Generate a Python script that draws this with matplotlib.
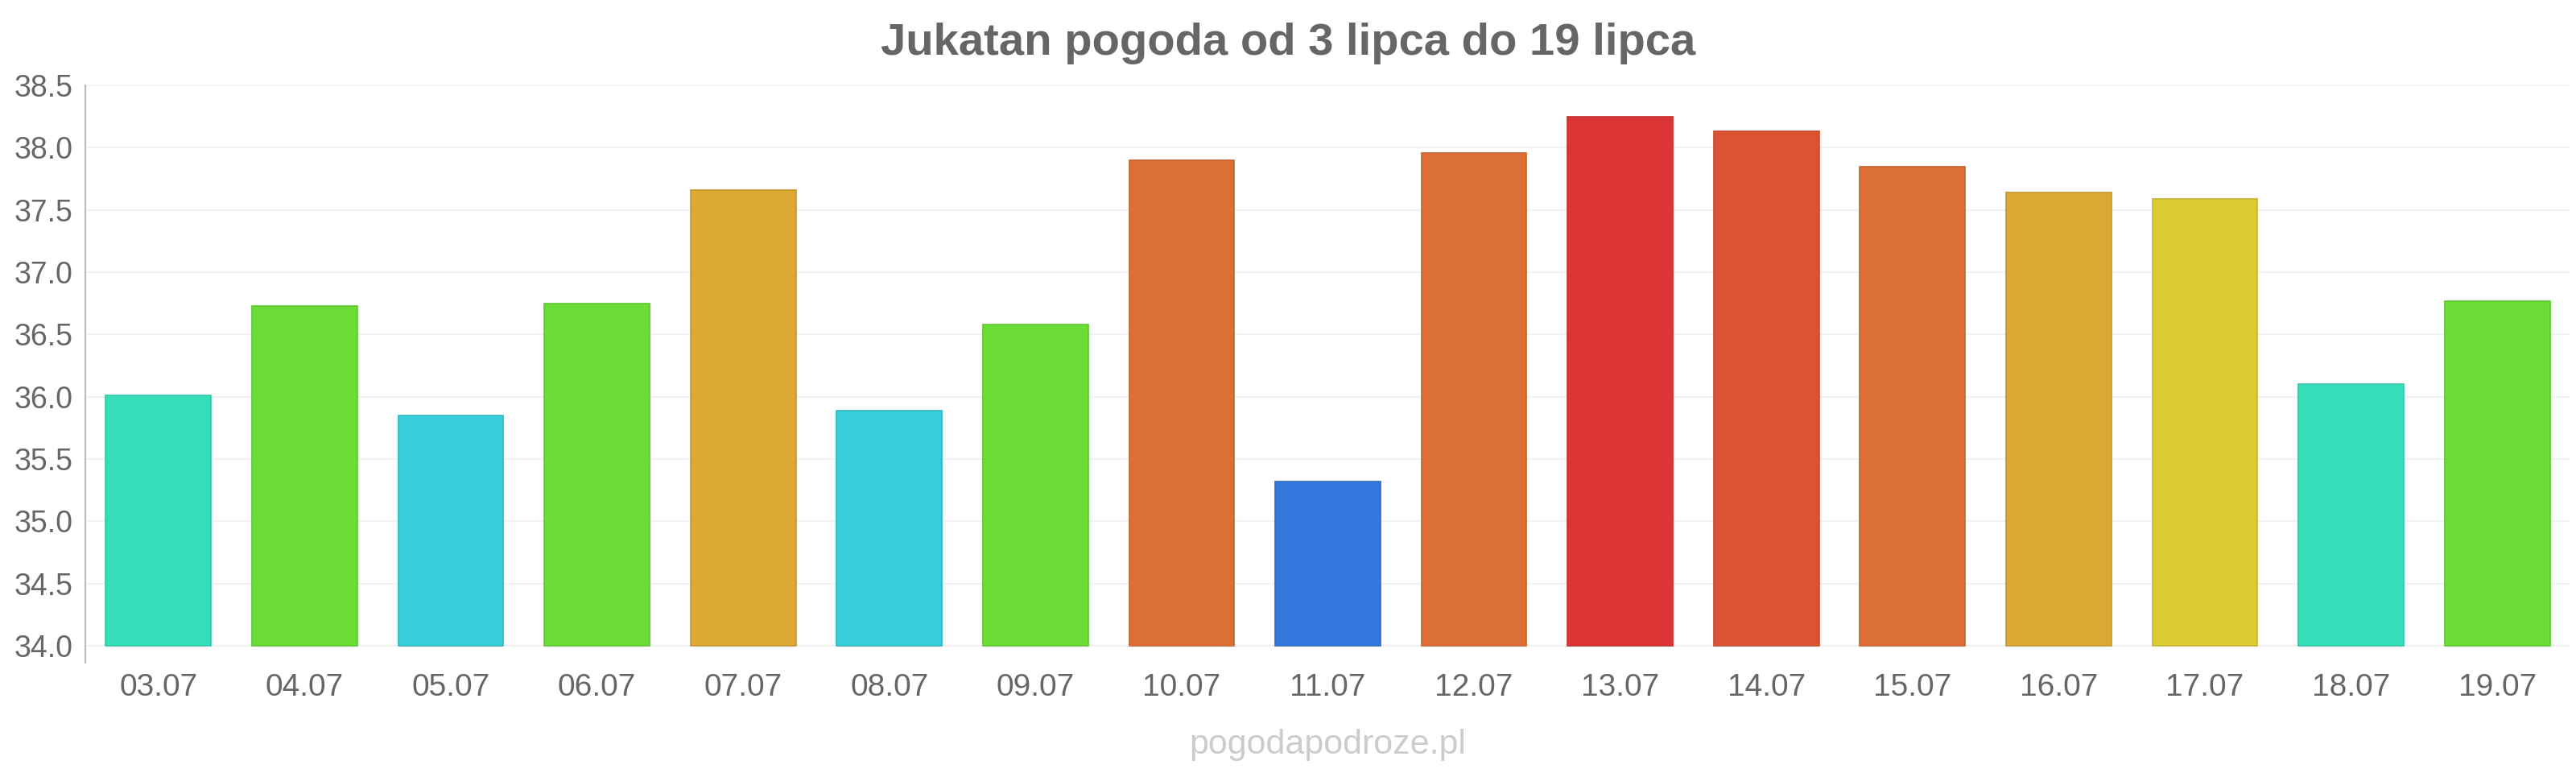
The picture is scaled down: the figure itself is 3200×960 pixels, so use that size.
import matplotlib
matplotlib.use("Agg")
import matplotlib.pyplot as plt
import matplotlib.colors as mcolors

categories = ["03.07", "04.07", "05.07", "06.07", "07.07", "08.07", "09.07", "10.07", "11.07",
              "12.07", "13.07", "14.07", "15.07", "16.07", "17.07", "18.07", "19.07"]
temps = [36.01, 36.73, 35.85, 36.75, 37.66, 35.89, 36.58, 37.90, 35.32,
         37.96, 38.25, 38.13, 37.85, 37.64, 37.59, 36.10, 36.77]
bar_colors = ["#36DDB9", "#6BDD36", "#35CEDA", "#6BDD36", "#DBA934", "#35CEDA", "#6BDD36", "#DD7034",
              "#3578DD", "#DD7034", "#DB3535", "#DC5334", "#DD7034", "#DBA934", "#DBCA34", "#36DDB9",
              "#6BDD36"]
yticks = [34.0, 34.5, 35.0, 35.5, 36.0, 36.5, 37.0, 37.5, 38.0, 38.5]
title = "Jukatan pogoda od 3 lipca do 19 lipca"
watermark = "pogodapodroze.pl"

plt.rcParams['font.family'] = ['Liberation Sans', 'DejaVu Sans']

W, H = 3200, 960
fig = plt.figure(figsize=(W / 100, H / 100), dpi=100)
fig.patch.set_facecolor("white")

ax_left, ax_right, ax_top, ax_bottom = 106, 3193, 106, 823
ax = fig.add_axes([ax_left / W, (H - ax_bottom) / H, (ax_right - ax_left) / W, (ax_bottom - ax_top) / H])

base = 34.0
x = list(range(len(categories)))
edges = []
for c in bar_colors:
    r, g, b = mcolors.to_rgb(c)
    edges.append((r * 0.9, g * 0.9, b * 0.9))
ax.bar(x, [t - base for t in temps], bottom=base, width=0.72, color=bar_colors,
       edgecolor=edges, linewidth=1.2, zorder=3)

ax.set_xlim(-0.5, len(categories) - 0.5)
ax.set_ylim(33.864, 38.5)
ax.set_yticks(yticks)
ax.set_yticklabels([f"{v:.1f}" for v in yticks])
ax.set_xticks(x)
ax.set_xticklabels(categories)

ax.grid(axis='y', color='#f2f2f2', linewidth=1.5, zorder=0)
ax.grid(axis='x', visible=False)
for s in ["top", "right", "bottom"]:
    ax.spines[s].set_visible(False)
ax.spines["left"].set_color("#bbbbbb")
ax.spines["left"].set_linewidth(1.5)

ax.tick_params(axis='y', length=0, pad=11, labelsize=27, labelcolor="#666666")
ax.tick_params(axis='x', length=0, pad=9, labelsize=28, labelcolor="#666666")

fig.text(0.5, 1 - 54 / H, title, ha='center', va='center', fontsize=40.5, fontweight='bold', color="#666666")
fig.text((ax_left + ax_right) / 2 / W, 1 - 925 / H, watermark, ha='center', va='center', fontsize=31, color="#cccccc")

fig.savefig("out.png", dpi=100, facecolor="white")
